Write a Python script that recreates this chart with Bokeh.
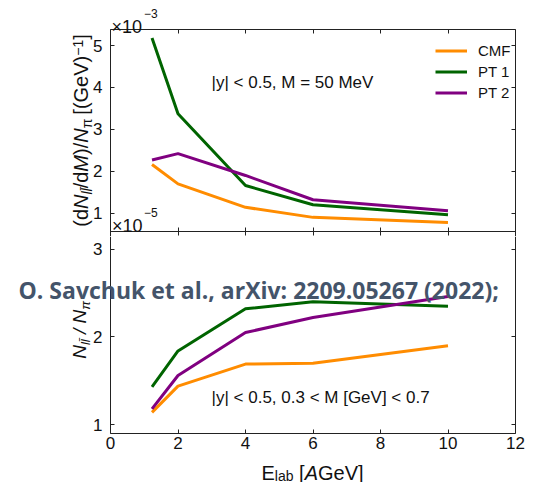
import math
from bokeh.plotting import figure
from bokeh.models import Range1d, LinearAxis, FixedTicker, Label, Legend, LegendItem
from bokeh.layouts import column
from bokeh.embed import file_html
from bokeh.resources import INLINE

# ---------------- data ----------------
E_LAB = [1.23, 2.0, 4.0, 6.0, 10.0]
X_TICKS = [0, 2, 4, 6, 8, 10, 12]

SERIES = ["CMF", "PT 1", "PT 2"]

# top panel: (dN/dM)/N_pi  in units of 1e-3 (GeV)^-1
TOP_CMF = [2.16, 1.70, 1.14, 0.90, 0.78]
TOP_PT1 = [5.18, 3.37, 1.66, 1.20, 0.96]
TOP_PT2 = [2.27, 2.42, 1.90, 1.32, 1.06]
TOP_TICKS = [1, 2, 3, 4, 5]

# bottom panel: N_ll / N_pi in units of 1e-5
BOT_CMF = [1.14, 1.44, 1.69, 1.70, 1.90]
BOT_PT1 = [1.43, 1.84, 2.32, 2.40, 2.35]
BOT_PT2 = [1.18, 1.56, 2.05, 2.22, 2.46]
BOT_TICKS = [1, 2, 3]

COLORS = ["#FF8C00", "#006400", "#800080"]
FONT = "Liberation Sans"
AX_COLOR = "#222222"
TXT = "#111111"

# ---------------- geometry (page pixels) ----------------
W, H = 546, 482
FL, FR = 110, 515                 # panel left / right edge
X_LIM = (0, 12)
P1_TOP = 29                       # top of upper panel
PANEL_H = 202
MIDLINE = P1_TOP + PANEL_H        # 231: border between the two panels
SPLIT = 236                       # where the upper canvas ends
Y1 = (0.563, 5.382)
Y2 = (0.9, 3.2)
MID = 0.3465                      # em-box middle above the baseline


def x_of(px):
    return X_LIM[0] + (px - FL) * (X_LIM[1] - X_LIM[0]) / (FR - FL)


def y1_of(py):
    return Y1[1] - (py - P1_TOP) * (Y1[1] - Y1[0]) / PANEL_H


def y2_of(py):
    return Y2[1] - (py - MIDLINE) * (Y2[1] - Y2[0]) / PANEL_H


ADV = {'(': .333, ')': .333, 'd': .556, 'N': .722, 'l': .222, '/': .278, 'M': .833,
       ' ': .278, '[': .278, ']': .278, 'G': .778, 'e': .556, 'V': .667, '\u2212': .584,
       '1': .556, 'E': .667, 'a': .556, 'b': .556, 'A': .667, '\u03c0': .58, '\u0304': 0}


def tw(s, size):
    return sum(ADV.get(c, .556) for c in s) * size


def make_fig(page_top, page_bottom, yconv):
    # the frame fills the whole canvas; axes are pinned at the panel edges
    p = figure(width=W, height=page_bottom - page_top,
               x_range=Range1d(x_of(0), x_of(W)),
               y_range=Range1d(yconv(page_bottom), yconv(page_top)),
               x_axis_type=None, y_axis_type=None,
               min_border=0, min_border_left=0, min_border_right=0,
               min_border_top=0, min_border_bottom=0,
               output_backend="svg", toolbar_location=None,
               background_fill_color="white", border_fill_color="white")
    p.outline_line_color = None
    return p


def axis(ticks, labels, standoff, fixed, bounds, tick_out=0):
    ax = LinearAxis(ticker=FixedTicker(ticks=ticks), fixed_location=fixed, bounds=bounds)
    ax.major_tick_in = 4
    ax.major_tick_out = tick_out
    ax.minor_tick_in = 0
    ax.minor_tick_out = 0
    ax.minor_tick_line_color = None
    ax.axis_line_color = AX_COLOR
    ax.axis_line_width = 1
    ax.major_tick_line_color = AX_COLOR
    ax.axis_label = None
    if labels:
        ax.major_label_text_font = FONT
        ax.major_label_text_font_size = "17px"
        ax.major_label_text_color = TXT
        ax.major_label_standoff = standoff
    else:
        ax.major_label_text_font_size = "0px"
        ax.major_label_text_color = None
        ax.major_label_standoff = 0
    return ax


def split_lead(t):
    s = t.lstrip(" ")
    return s.rstrip(" "), len(t) - len(s)


def vlabel(p, pieces, center_py, base_px, yconv):
    # rotated (bottom-to-top) label made of pieces; base_px = main baseline x
    total = sum(tw(t, sz) for t, sz, st, dx in pieces)
    py = center_py + total / 2
    for t, sz, st, dx in pieces:
        s, lead = split_lead(t)
        cx = base_px + dx - MID * sz
        p.add_layout(Label(x=x_of(cx), y=yconv(py - lead * ADV[' '] * sz), text=s,
                           angle=math.pi / 2, text_align="left", text_baseline="middle",
                           text_font=FONT, text_font_size=f"{sz}px", text_font_style=st,
                           text_color=TXT))
        py -= tw(t, sz)


def hlabel(p, pieces, start_px, base_py, yconv):
    px = start_px
    for t, sz, st, dy in pieces:
        s, lead = split_lead(t)
        p.add_layout(Label(x=x_of(px + lead * ADV[' '] * sz), y=yconv(base_py + dy), text=s,
                           text_align="left", text_baseline="alphabetic", text_font=FONT,
                           text_font_size=f"{sz}px", text_font_style=st, text_color=TXT))
        px += tw(t, sz)


def text(p, px, py, yconv, s, size, baseline="alphabetic", **kw):
    p.add_layout(Label(x=x_of(px), y=yconv(py), text=s, text_align="left",
                       text_baseline=baseline, text_font=kw.pop("font", FONT),
                       text_font_size=f"{size}px", text_color=kw.pop("color", TXT), **kw))


# ---------------- top panel (canvas 0 .. SPLIT) ----------------
p1 = make_fig(0, SPLIT, y1_of)
p1.add_layout(axis(TOP_TICKS, True, 8, x_of(FL), (y1_of(SPLIT), Y1[1])), "left")
p1.add_layout(axis(TOP_TICKS, False, 0, x_of(FR), (y1_of(SPLIT), Y1[1])), "right")
p1.add_layout(axis(X_TICKS, False, 0, y1_of(P1_TOP), X_LIM), "above")
# shared border line: ticks point into both panels
p1.add_layout(axis(X_TICKS, False, 0, y1_of(MIDLINE), X_LIM, tick_out=4), "below")

items = []
for name, ys, c in zip(SERIES, [TOP_CMF, TOP_PT1, TOP_PT2], COLORS):
    r = p1.line(E_LAB, ys, line_color=c, line_width=3)
    items.append(LegendItem(label=name, renderers=[r]))
leg = Legend(items=items, location="top_right", margin=29, padding=9, spacing=0,
             glyph_width=32, glyph_height=21, label_height=21, label_width=39,
             label_standoff=11, border_line_color=None, background_fill_alpha=0,
             label_text_font=FONT, label_text_font_size="15px", label_text_color=TXT,
             title=" ", title_text_font_size="10px", title_standoff=0,
             title_text_color=None)
p1.add_layout(leg)

text(p1, 211, 82, y1_of, "|y| < 0.5, M = 50 MeV", 17, baseline="middle")

# exponent labels
text(p1, 111, 26, y1_of, "\u00d710", 18)
text(p1, 143.5, 13, y1_of, "\u22123", 12)
text(p1, 111.5, 225, y1_of, "\u00d710", 18)
text(p1, 143.5, 212, y1_of, "\u22125", 12)

top_ylabel = [("(d", 20, "normal", 0), ("N", 20, "italic", 0), ("ll\u0304", 14, "italic", 4),
              ("/d", 20, "normal", 0), ("M", 20, "italic", 0), (")/", 20, "normal", 0),
              ("N", 20, "italic", 0), ("\u03c0", 14, "normal", 4),
              (" [(GeV)", 20, "normal", 0), ("\u22121", 14, "normal", -5),
              ("]", 20, "normal", 0)]
vlabel(p1, top_ylabel, 130, 87.5, y1_of)

# ---------------- bottom panel (canvas SPLIT .. H) ----------------
p2 = make_fig(SPLIT, H, y2_of)
p2.add_layout(axis(BOT_TICKS, True, 8, x_of(FL), (Y2[0], y2_of(SPLIT))), "left")
p2.add_layout(axis(BOT_TICKS, False, 0, x_of(FR), (Y2[0], y2_of(SPLIT))), "right")
p2.add_layout(axis(X_TICKS, True, 3, y2_of(MIDLINE + PANEL_H), X_LIM), "below")

for name, ys, c in zip(SERIES, [BOT_CMF, BOT_PT1, BOT_PT2], COLORS):
    p2.line(E_LAB, ys, line_color=c, line_width=3)

text(p2, 211, 396.5, y2_of, "|y| < 0.5, 0.3 < M [GeV] < 0.7", 17, baseline="middle")

bot_ylabel = [("N", 19, "italic", 0), ("ll\u0304", 13, "italic", 4),
              (" / ", 19, "italic", 0), ("N", 19, "italic", 0), ("\u03c0", 13, "italic", 4)]
vlabel(p2, bot_ylabel, 330, 86, y2_of)

xlabel = [("E", 20, "normal", 0), ("lab", 14, "normal", 3), (" [", 20, "normal", 0),
          ("A", 20, "italic", 0), ("GeV]", 20, "normal", 0)]
hlabel(p2, xlabel, 261, 472, y2_of)

text(p2, 18, 289.5, y2_of, "O. Savchuk et al., arXiv: 2209.05267 (2022);", 23,
     font="Open Sans", text_font_style="bold", color="#44546A")

layout = column(p1, p2, spacing=0)
open("out.html", "w").write(file_html(layout, INLINE))
